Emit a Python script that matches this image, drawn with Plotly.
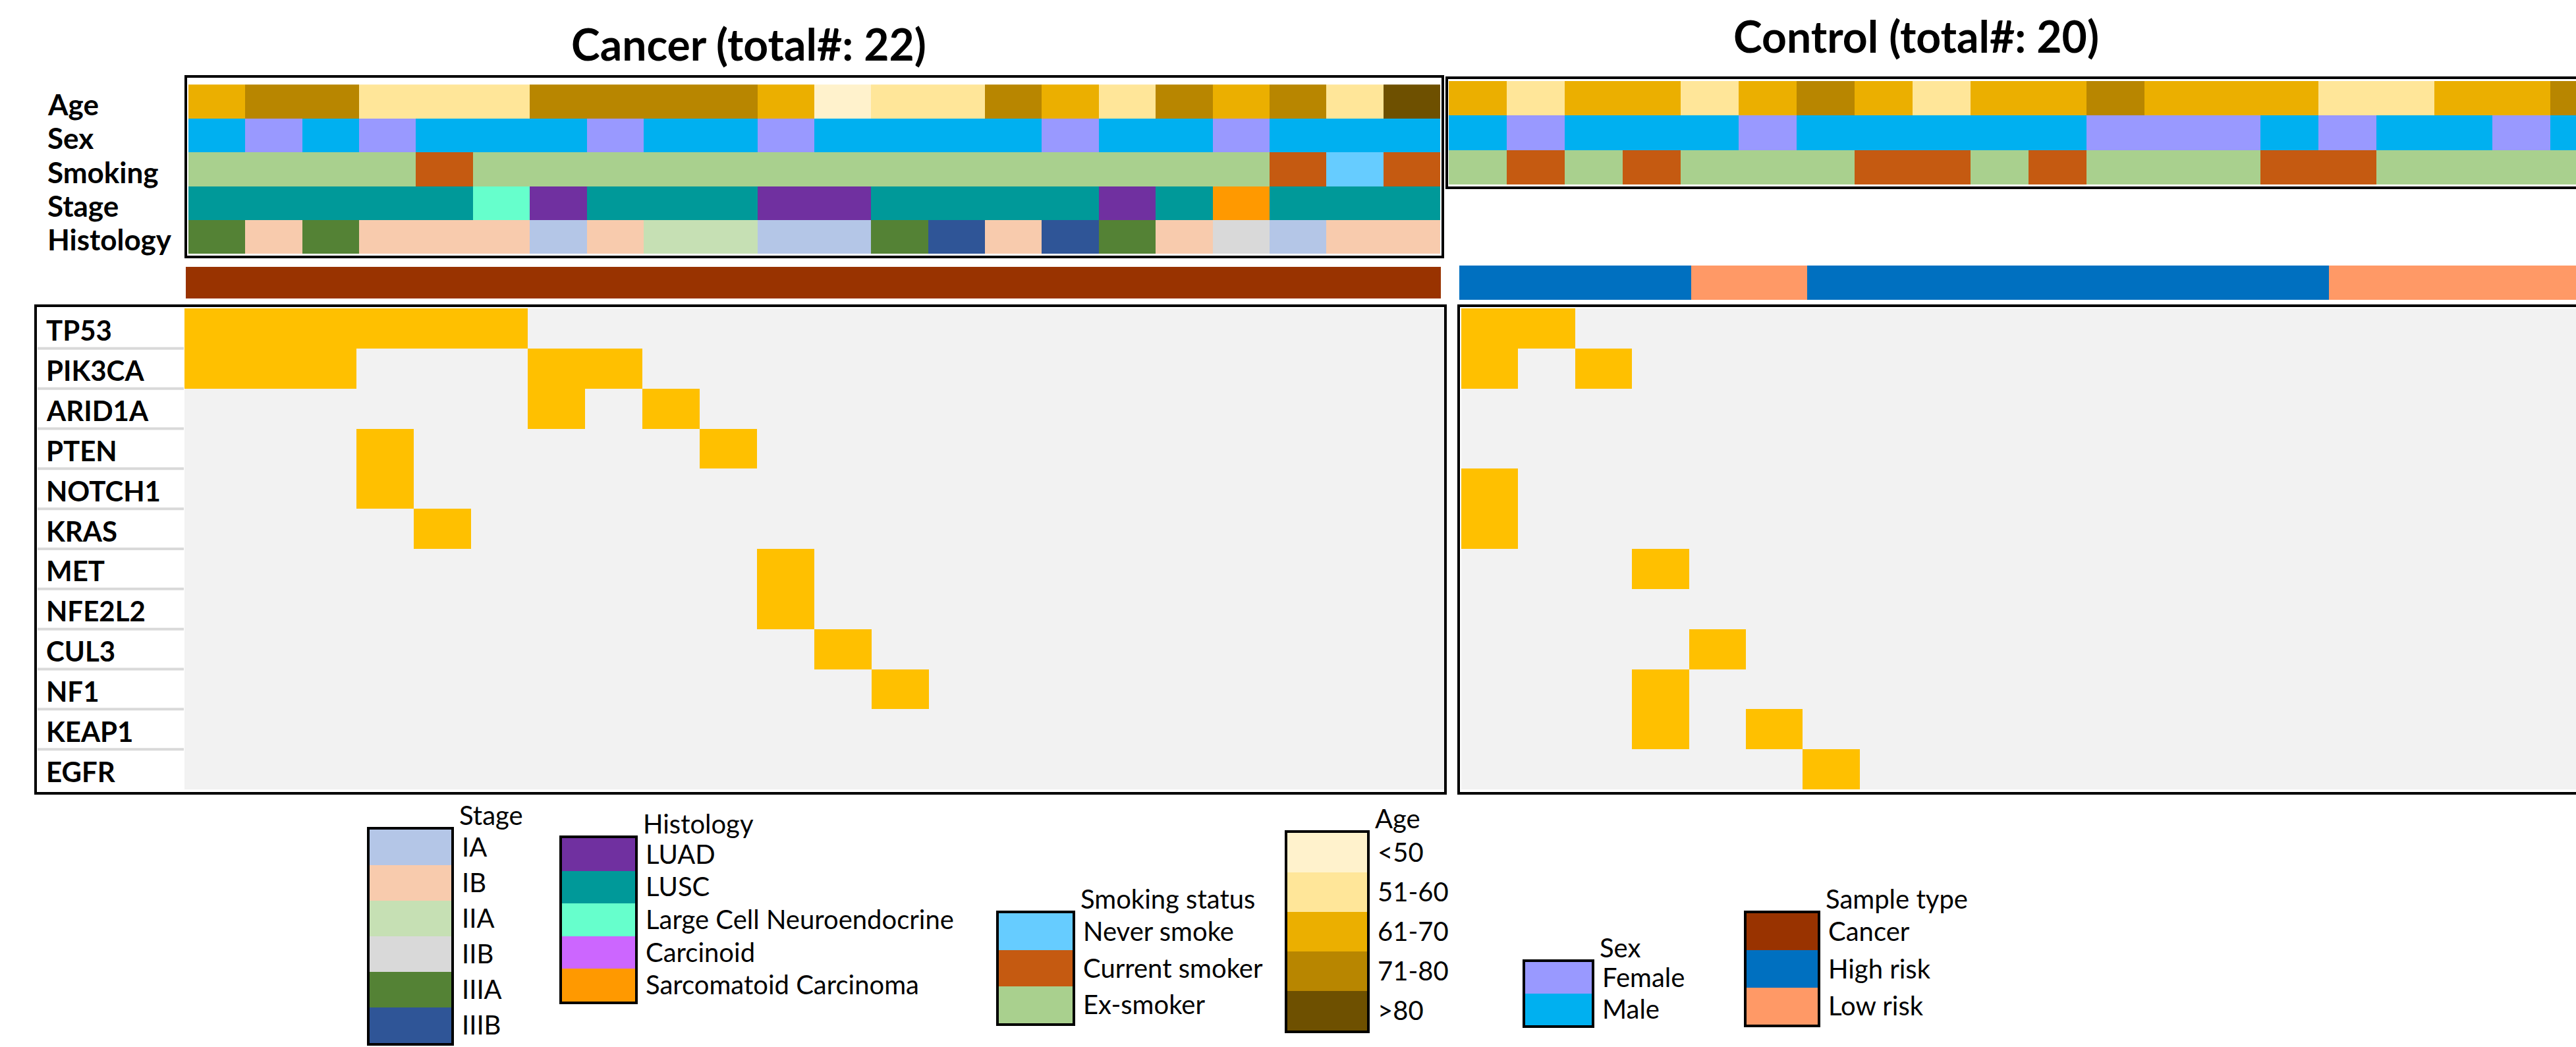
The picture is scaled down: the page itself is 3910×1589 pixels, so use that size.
import plotly.graph_objects as go

W, H = 3910, 1589
FONT = "Lato"

# ---------------- data ----------------
genes = ["TP53", "PIK3CA", "ARID1A", "PTEN", "NOTCH1", "KRAS", "MET",
         "NFE2L2", "CUL3", "NF1", "KEAP1", "EGFR"]

cancer_age = ["61-70", "71-80", "71-80", "51-60", "51-60", "51-60", "71-80", "71-80",
              "71-80", "71-80", "61-70", "<50", "51-60", "51-60", "71-80", "61-70",
              "51-60", "71-80", "61-70", "71-80", "51-60", ">80"]
cancer_sex = ["Male", "Female", "Male", "Female", "Male", "Male", "Male", "Female",
              "Male", "Male", "Female", "Male", "Male", "Male", "Male", "Female",
              "Male", "Male", "Female", "Male", "Male", "Male"]
cancer_smoking = ["Ex-smoker"] * 4 + ["Current smoker"] + ["Ex-smoker"] * 14 + \
                 ["Current smoker", "Never smoke", "Current smoker"]
# the row labelled "Stage" in the figure shows histology colours,
# the row labelled "Histology" shows stage colours (as in the original)
cancer_histology = ["LUSC"] * 5 + ["Large Cell Neuroendocrine", "LUAD"] + ["LUSC"] * 3 + \
                   ["LUAD"] * 2 + ["LUSC"] * 4 + ["LUAD", "LUSC", "Sarcomatoid Carcinoma"] + ["LUSC"] * 3
cancer_stage = ["IIIA", "IB", "IIIA", "IB", "IB", "IB", "IA", "IB", "IIA", "IIA", "IA",
                "IA", "IIIA", "IIIB", "IB", "IIIB", "IIIA", "IB", "IIB", "IA", "IB", "IB"]
cancer_type = ["Cancer"] * 22

control_age = ["61-70", "51-60", "61-70", "61-70", "51-60", "61-70", "71-80", "61-70",
               "51-60", "61-70", "61-70", "71-80", "61-70", "61-70", "61-70", "51-60",
               "51-60", "61-70", "61-70", "71-80"]
control_sex = ["Male", "Female", "Male", "Male", "Male", "Female", "Male", "Male", "Male",
               "Male", "Male", "Female", "Female", "Female", "Male", "Female", "Male",
               "Male", "Female", "Male"]
control_smoking = ["Ex-smoker", "Current smoker", "Ex-smoker", "Current smoker",
                   "Ex-smoker", "Ex-smoker", "Ex-smoker", "Current smoker", "Current smoker",
                   "Ex-smoker", "Current smoker", "Ex-smoker", "Ex-smoker", "Ex-smoker",
                   "Current smoker", "Current smoker", "Ex-smoker", "Ex-smoker",
                   "Ex-smoker", "Ex-smoker"]
control_type = ["High risk"] * 4 + ["Low risk"] * 2 + ["High risk"] * 9 + ["Low risk"] * 5

# mutated samples (1-based sample position) per gene
cancer_mut = {"TP53": [1, 2, 3, 4, 5, 6], "PIK3CA": [1, 2, 3, 7, 8], "ARID1A": [7, 9],
              "PTEN": [4, 10], "NOTCH1": [4], "KRAS": [5], "MET": [11], "NFE2L2": [11],
              "CUL3": [12], "NF1": [13], "KEAP1": [], "EGFR": []}
control_mut = {"TP53": [1, 2], "PIK3CA": [1, 3], "ARID1A": [], "PTEN": [], "NOTCH1": [1],
               "KRAS": [1], "MET": [4], "NFE2L2": [], "CUL3": [5], "NF1": [4],
               "KEAP1": [4, 6], "EGFR": [7]}

stage_levels = ["IA", "IB", "IIA", "IIB", "IIIA", "IIIB"]
histology_levels = ["LUAD", "LUSC", "Large Cell Neuroendocrine", "Carcinoid", "Sarcomatoid Carcinoma"]
smoking_levels = ["Never smoke", "Current smoker", "Ex-smoker"]
age_levels = ["<50", "51-60", "61-70", "71-80", ">80"]
sex_levels = ["Female", "Male"]
type_levels = ["Cancer", "High risk", "Low risk"]

# ---------------- colours ----------------
palette = {
    "IA": "#B4C6E7", "IB": "#F8CBAD", "IIA": "#C6E0B4", "IIB": "#D9D9D9",
    "IIIA": "#548235", "IIIB": "#2F5597",
    "LUAD": "#7030A0", "LUSC": "#009999", "Large Cell Neuroendocrine": "#66FFCC",
    "Carcinoid": "#CC66FF", "Sarcomatoid Carcinoma": "#FF9900",
    "Never smoke": "#66CCFF", "Current smoker": "#C55A11", "Ex-smoker": "#A9D08E",
    "<50": "#FFF2CC", "51-60": "#FFE699", "61-70": "#EBAF00", "71-80": "#B88600", ">80": "#6E5000",
    "Female": "#9999FF", "Male": "#00B0F0",
    "Cancer": "#993300", "High risk": "#0070C0", "Low risk": "#FF9966",
    "mut": "#FFC000", "none": "#F2F2F2",
}
names = list(palette)
IDX = {n: i for i, n in enumerate(names)}
N = len(names)
CS = []
for i, n in enumerate(names):
    CS.append([i / N, palette[n]])
    CS.append([(i + 1) / N, palette[n]])


def codes(rows):
    return [[IDX[v] for v in r] for r in rows]


def xdom(a, b):
    return [max(a / W, 0), min(b / W, 1)]


def ydom(top, bottom):
    return [1 - bottom / H, 1 - top / H]


fig = go.Figure()
layout = dict(width=W, height=H, margin=dict(l=0, r=0, t=0, b=0),
              paper_bgcolor="white", plot_bgcolor="white", showlegend=False,
              font=dict(family=FONT, color="black"))
ax_n = [0]


def add_heat(rows_vals, ylabels, xd, yd, ncols, visible_cols=None, legend_axis=False):
    ax_n[0] += 1
    k = ax_n[0]
    sfx = "" if k == 1 else str(k)
    fig.add_trace(go.Heatmap(
        z=codes(rows_vals), x=list(range(ncols)), y=ylabels,
        colorscale=CS, zmin=-0.5, zmax=N - 0.5, showscale=False, hoverinfo="skip",
        xaxis="x" + sfx, yaxis="y" + sfx))
    vis = ncols if visible_cols is None else visible_cols
    xa = dict(domain=xd, anchor="y" + sfx, range=[-0.5, -0.5 + vis],
              showticklabels=False, showgrid=False, zeroline=False, ticks="", fixedrange=True)
    ya = dict(domain=yd, anchor="x" + sfx, autorange="reversed", type="category",
              showticklabels=False, showgrid=False, zeroline=False, ticks="", fixedrange=True)
    if legend_axis:
        for a in (xa, ya):
            a.update(showline=True, mirror=True, linecolor="black", linewidth=4)
        ya.update(showticklabels=True, side="right", tickmode="array",
                  tickvals=list(ylabels), ticktext=list(ylabels),
                  tickfont=dict(family=FONT, size=40, color="black"),
                  ticklabelstandoff=4)
    layout["xaxis" + sfx] = xa
    layout["yaxis" + sfx] = ya
    return "y" + sfx


# ---------------- cancer panel ----------------
ann_rows = ["Age", "Sex", "Smoking", "Stage", "Histology"]
y_can_ann = add_heat([cancer_age, cancer_sex, cancer_smoking, cancer_histology, cancer_stage],
                     ann_rows, xdom(286, 2186), ydom(122, 385), 22)
add_heat([cancer_type], ["Sample type"], xdom(282, 2187), ydom(405, 453), 22)
can_grid = [["mut" if (j + 1) in cancer_mut[g] else "none" for j in range(22)] for g in genes]
y_can_gene = add_heat(can_grid, genes, xdom(280, 2192), ydom(468, 1198), 22)

# ---------------- control panel (cropped at the right edge) ----------------
ctrl_ann_rows = ["Age", "Sex", "Smoking"]
add_heat([control_age, control_sex, control_smoking], ctrl_ann_rows,
         xdom(2199, W), ydom(123, 280), 20, visible_cols=(W - 2199) / 88.0)
add_heat([control_type], ["Sample type"], xdom(2215, W), ydom(403, 455), 20,
         visible_cols=(W - 2215) / 88.0)
ctl_grid = [["mut" if (j + 1) in control_mut[g] else "none" for j in range(20)] for g in genes]
add_heat(ctl_grid, genes, xdom(2218, W), ydom(468, 1198), 20, visible_cols=(W - 2218) / 86.4)

# ---------------- legends ----------------
legends = [
    ("Stage", stage_levels, (561, 685, 1259, 1583)),
    ("Histology", histology_levels, (853, 964, 1272, 1520)),
    ("Smoking status", smoking_levels, (1516, 1628, 1386, 1553)),
    ("Age", age_levels, (1954, 2075, 1264, 1564)),
    ("Sex", sex_levels, (2315, 2416, 1460, 1556)),
    ("Sample type", type_levels, (2651, 2759, 1386, 1555)),
]
annotations = []
for title, levels, (x0, x1, y0, y1) in legends:
    add_heat([[lv] for lv in levels], levels, xdom(x0, x1), ydom(y0, y1), 1, legend_axis=True)
    annotations.append(dict(text=title, xref="paper", yref="paper", x=(x1 + 10) / W,
                            y=1 - (y0 - 22) / H, xanchor="left", yanchor="middle", showarrow=False,
                            font=dict(family=FONT, size=40, color="black")))

# ---------------- text labels ----------------
for r in ann_rows:
    annotations.append(dict(text="<b>%s</b>" % r, xref="paper", yref=y_can_ann, x=70 / W, y=r,
                            xanchor="left", yanchor="middle", yshift=-4, showarrow=False,
                            font=dict(family=FONT, size=44, color="black")))
for g in genes:
    annotations.append(dict(text="<b>%s</b>" % g, xref="paper", yref=y_can_gene, x=68 / W, y=g,
                            xanchor="left", yanchor="middle", yshift=-3, showarrow=False,
                            font=dict(family=FONT, size=42, color="black")))
annotations.append(dict(text="<b>Cancer (total#: 22)</b>", xref="paper", yref="paper",
                        x=1136 / W, y=1 - 67 / H, xanchor="center", yanchor="middle",
                        showarrow=False, font=dict(family=FONT, size=66, color="black")))
annotations.append(dict(text="<b>Control (total#: 20)</b>", xref="paper", yref="paper",
                        x=2908 / W, y=1 - 54 / H, xanchor="center", yanchor="middle",
                        showarrow=False, font=dict(family=FONT, size=66, color="black")))
layout["annotations"] = annotations

# ---------------- frames & separators ----------------
shapes = []


def frame(x0, x1, top, bottom):
    shapes.append(dict(type="rect", xref="paper", yref="paper", x0=x0 / W, x1=x1 / W,
                       y0=1 - bottom / H, y1=1 - top / H, line=dict(color="black", width=4),
                       fillcolor="rgba(0,0,0,0)", layer="above"))


frame(282, 2190, 116, 390)
frame(2196, 3920, 118, 285)
frame(54, 2194, 464, 1204)
frame(2214, 3920, 464, 1204)
for i in range(len(genes) - 1):
    shapes.append(dict(type="line", xref="paper", yref=y_can_gene, x0=57 / W, x1=279 / W,
                       y0=i + 0.5, y1=i + 0.5, line=dict(color="#D9D9D9", width=4)))
layout["shapes"] = shapes

fig.update_layout(**layout)
fig.write_html("out.html")
